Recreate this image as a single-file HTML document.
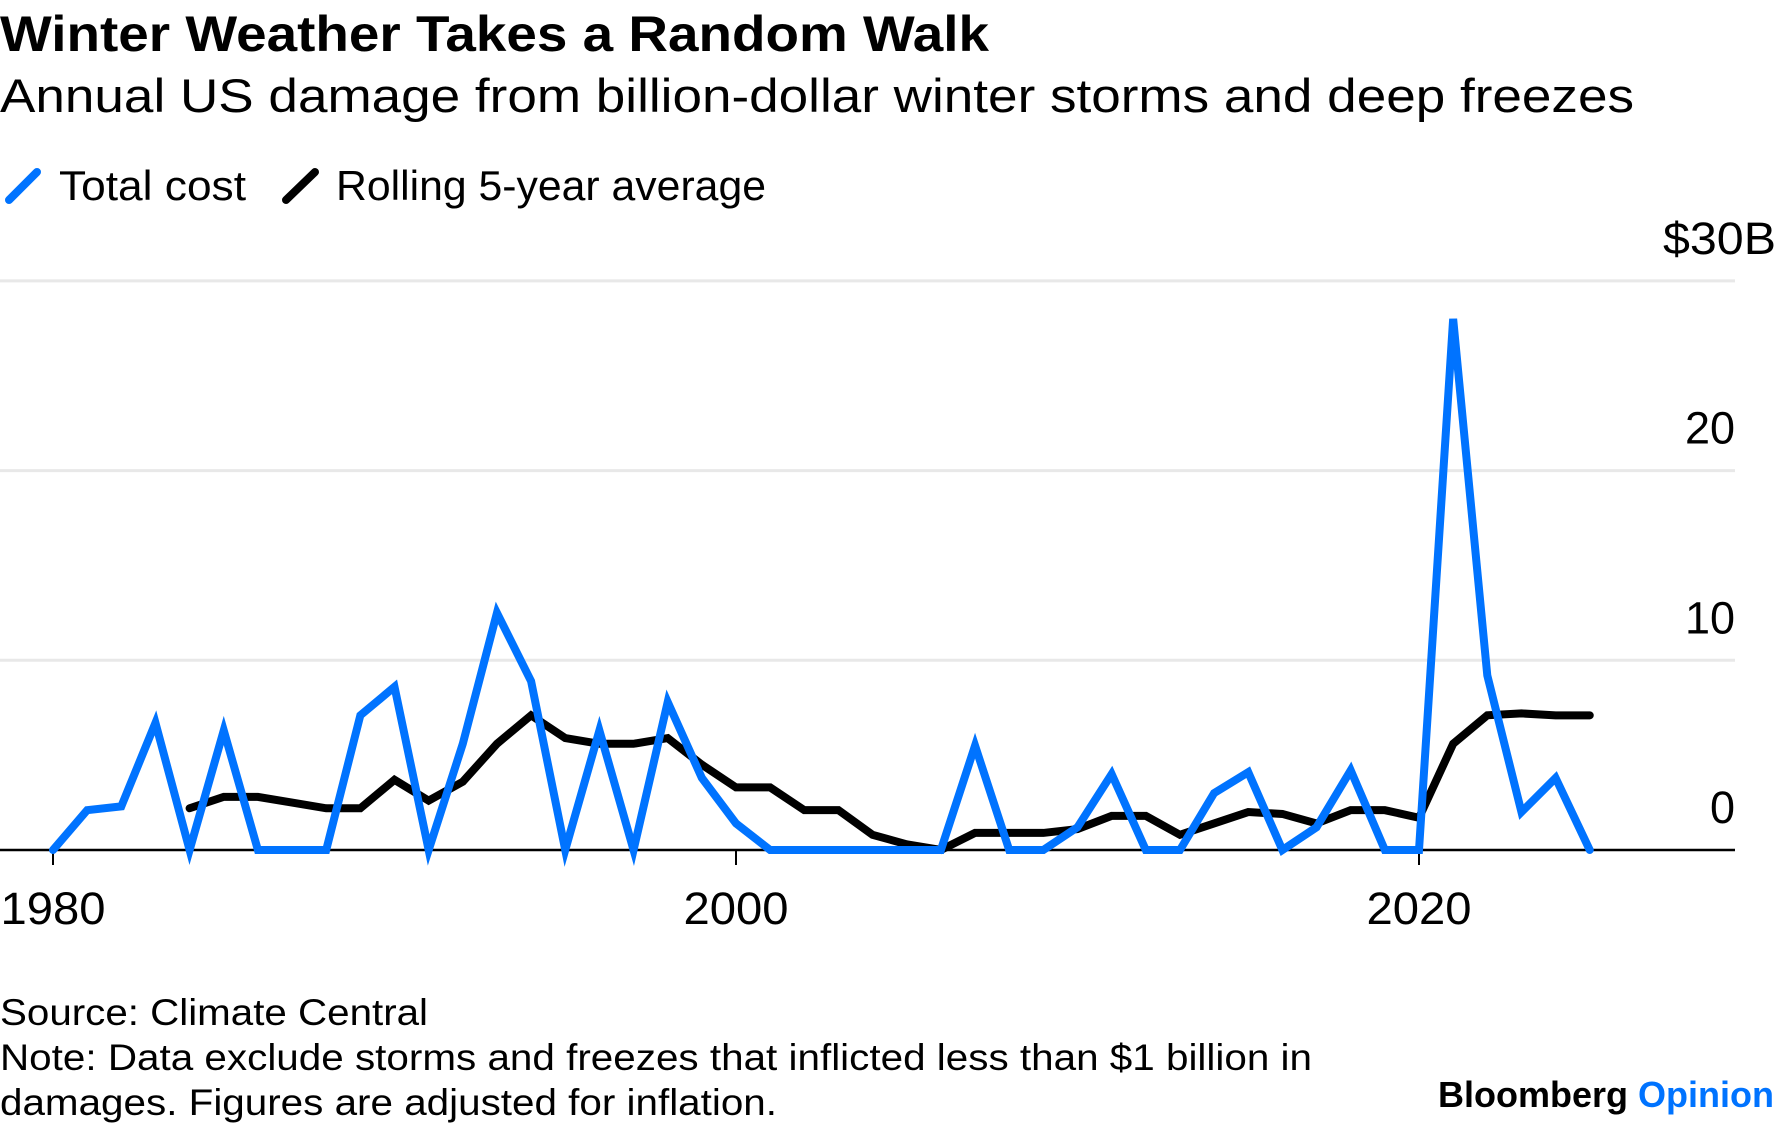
<!DOCTYPE html>
<html><head><meta charset="utf-8"><style>
html,body{margin:0;padding:0;background:#fff;width:1776px;height:1125px;overflow:hidden}
svg{display:block;font-family:"Liberation Sans",sans-serif}
</style></head><body>
<svg id="chart" width="1776" height="1125">
<text x="0" y="51" font-size="50" font-weight="bold" fill="#000" textLength="989" lengthAdjust="spacingAndGlyphs">Winter Weather Takes a Random Walk</text>
<text x="0" y="112" font-size="47" fill="#000" textLength="1634" lengthAdjust="spacingAndGlyphs">Annual US damage from billion-dollar winter storms and deep freezes</text>
<g>
<line x1="9" y1="200" x2="37" y2="172" stroke="#0073ff" stroke-width="8" stroke-linecap="round"/>
<text x="59" y="200" font-size="42" textLength="187" lengthAdjust="spacingAndGlyphs">Total cost</text>
<line x1="286" y1="200" x2="315" y2="172" stroke="#000" stroke-width="8" stroke-linecap="round"/>
<text x="336" y="200" font-size="42" textLength="430" lengthAdjust="spacingAndGlyphs">Rolling 5-year average</text>
</g>
<g id="grid"></g>
<g id="series"></g>
<text x="0" y="1025" font-size="37" textLength="428" lengthAdjust="spacingAndGlyphs">Source: Climate Central</text>
<text x="0" y="1070" font-size="37" textLength="1312" lengthAdjust="spacingAndGlyphs">Note: Data exclude storms and freezes that inflicted less than $1 billion in</text>
<text x="0" y="1115" font-size="37" textLength="777" lengthAdjust="spacingAndGlyphs">damages. Figures are adjusted for inflation.</text>
<text x="1774" y="1107" font-size="36" font-weight="bold" text-anchor="end">Bloomberg <tspan fill="#0073ff">Opinion</tspan></text>
</svg>
<script>
const years = [];
for (let y = 1980; y <= 2025; y++) years.push(y);
const totalCost = [0,2.1,2.3,6.7,0,6.3,0,0,0,7.1,8.6,0,5.6,12.5,8.9,0,6.3,0,7.8,3.8,1.4,0,0,0,0,0,0,5.5,0,0,1.2,4.0,0,0,3.0,4.1,0,1.2,4.2,0,0,28.0,9.2,2.0,3.8,0];
const rollingYears = [];
for (let y = 1984; y <= 2025; y++) rollingYears.push(y);
const rollingAvg = [2.2,2.8,2.8,2.5,2.2,2.2,3.7,2.6,3.6,5.6,7.1,5.9,5.6,5.6,5.9,4.5,3.3,3.3,2.1,2.1,0.8,0.3,0,0.9,0.9,0.9,1.1,1.8,1.8,0.8,1.4,2.0,1.9,1.4,2.1,2.1,1.7,5.6,7.1,7.2,7.1,7.1];
const yTicks = [0,10,20,30];
const yTickLabels = ["0","10","20","$30B"];
const xTicks = [1980,2000,2020];

const NS = "http://www.w3.org/2000/svg";
const xS = y => 53 + (y - 1980) * 34.15;
const yS = v => 850 - v * 18.97;
const grid = document.getElementById('grid');
const series = document.getElementById('series');
function mk(tag, attrs, parent){const e=document.createElementNS(NS,tag);for(const k in attrs)e.setAttribute(k,attrs[k]);parent.appendChild(e);return e;}

yTicks.forEach((t,i)=>{
  if (t>0){
    const l = mk('line',{x1:0,x2:1735,y1:yS(t),y2:yS(t),stroke:'#e8e8e8','stroke-width':3},grid);
    
    
  }
  const attrs = {x: t===30?1776:1735, y: yS(t)-27,'font-size':45,'text-anchor':'end'};
  if (t===30){attrs.textLength=113;attrs.lengthAdjust='spacingAndGlyphs';}
  const tx = mk('text',attrs,grid);
  tx.textContent = yTickLabels[i];
  
  
});
const ax = mk('line',{x1:0,x2:1735,y1:850,y2:850,stroke:'#000','stroke-width':2.5},grid);


xTicks.forEach(t=>{
  const tk = mk('line',{x1:xS(t),x2:xS(t),y1:850,y2:865,stroke:'#000','stroke-width':2},grid);
  
  
  const tx = mk('text',{x:xS(t),y:924,'font-size':45,'text-anchor':'middle',textLength:105,lengthAdjust:'spacingAndGlyphs'},grid);
  tx.textContent = t;
  
  
});
const rp = mk('polyline',{points:rollingYears.map((y,i)=>xS(y)+','+yS(rollingAvg[i])).join(' '),fill:'none',stroke:'#000','stroke-width':8,'stroke-linejoin':'miter','stroke-linecap':'round'},series);


const bp = mk('polyline',{points:years.map((y,i)=>xS(y)+','+yS(totalCost[i])).join(' '),fill:'none',stroke:'#0073ff','stroke-width':8,'stroke-linejoin':'miter','stroke-miterlimit':10,'stroke-linecap':'round'},series);


</script>
</body></html>
